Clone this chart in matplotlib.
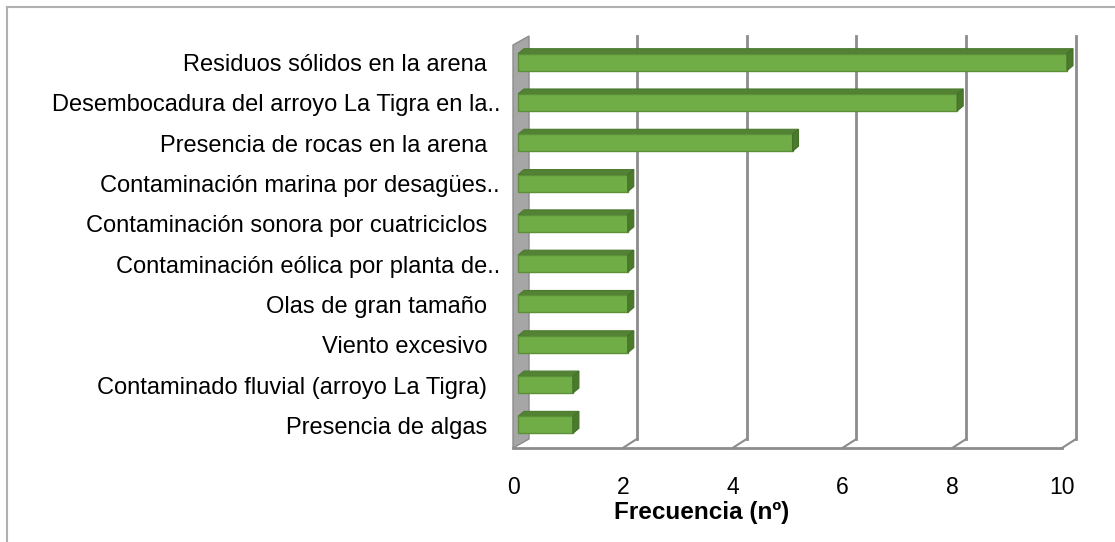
import numpy as np
import matplotlib.pyplot as plt
import matplotlib.transforms as mtrans
from matplotlib.patches import Polygon

plt.rcParams['font.family'] = ['Liberation Sans', 'DejaVu Sans']

labels = ['Residuos sólidos en la arena',
          'Desembocadura del arroyo La Tigra en la..',
          'Presencia de rocas en la arena',
          'Contaminación marina por desagües..',
          'Contaminación sonora por cuatriciclos',
          'Contaminación eólica por planta de..',
          'Olas de gran tamaño',
          'Viento excesivo',
          'Contaminado fluvial (arroyo La Tigra)',
          'Presencia de algas']
values = [10, 8, 5, 2, 2, 2, 2, 2, 1, 1]
xticks = [0, 2, 4, 6, 8, 10]

W, H = 1115, 542
fig = plt.figure(figsize=(W / 100, H / 100), dpi=100)
ax = fig.add_axes([513 / W, (H - 448) / H, 549 / W, 403 / H])
n = len(values)
ax.set_xlim(0, 10)
ax.set_ylim(n - 0.5, -0.5)
ax.axis('off')

# offsets for the fake 3D depth (pixels -> inches)
def off(dx, dy):
    return ax.transData + mtrans.ScaledTranslation(dx / 100, dy / 100, fig.dpi_scale_trans)

back = off(14, 9)
grid_c = '#8c8c8c'
top, bot = -0.5, n - 0.5
inv = ax.transData.inverted()

# left wall
pts_front = ax.transData.transform([(0, top), (0, bot)])
pts_back = off(16, 9).transform([(0, bot), (0, top)])
wall_pts = inv.transform(np.vstack([pts_front, pts_back]))
ax.add_patch(Polygon(wall_pts, closed=True, facecolor='#a6a6a6', edgecolor='#8c8c8c',
                     lw=1, clip_on=False, zorder=1))

# back gridlines + floor diagonals
for t in xticks[1:]:
    ax.plot([t, t], [top, bot], color=grid_c, lw=2, transform=back, clip_on=False, zorder=1)
    fb = back.transform([(t, bot)])
    ff = ax.transData.transform([(t, bot)])
    seg = inv.transform(np.vstack([fb, ff]))
    ax.plot(seg[:, 0], seg[:, 1], color=grid_c, lw=1.5, clip_on=False, zorder=1)
# floor front edge
ax.plot([0, 10], [bot, bot], color=grid_c, lw=2, clip_on=False, zorder=1)

# bars with depth
h = 0.42
front = off(5, 3)
d = (6, 5)
for i, v in enumerate(values):
    y0, y1 = i - h / 2, i + h / 2
    ax.barh(i, v, height=h, color='#70ad47', edgecolor='#5b8f38', lw=1,
            transform=front, clip_on=False, zorder=3)
    p = front.transform([(0, y0), (v, y0), (v, y1)])
    pt = np.array([p[0], p[1], p[1] + d, p[0] + d])
    ps = np.array([p[1], p[1] + d, p[2] + d, p[2]])
    ax.add_patch(Polygon(inv.transform(pt), closed=True, facecolor='#548235',
                         edgecolor='#4a7a2e', lw=0.8, clip_on=False, zorder=2))
    ax.add_patch(Polygon(inv.transform(ps), closed=True, facecolor='#4b7a2c',
                         edgecolor='#44702a', lw=0.8, clip_on=False, zorder=4))

# category labels
for i, lab in enumerate(labels):
    dx = -13 if lab.endswith('..') else -26
    ax.text(0, i, lab, ha='right', va='center', fontsize=17,
            transform=off(dx, 0), clip_on=False)

# x tick labels
for t in xticks:
    ax.text(t, bot, str(t), ha='center', va='center', fontsize=16.5,
            transform=off(0, -39), clip_on=False)

fig.text(702 / W, 1 - 512 / H, 'Frecuencia (nº)', ha='center', va='center',
         fontsize=17.5, fontweight='bold')

# chart area border (top and left visible)
fig.add_artist(plt.Line2D([6.5 / W, 6.5 / W], [0, 1 - 6.5 / H], color='#b0b0b0', lw=1.5))
fig.add_artist(plt.Line2D([6.5 / W, 1], [1 - 6.5 / H, 1 - 6.5 / H], color='#b0b0b0', lw=1.5))

fig.savefig('out.png', dpi=100)
